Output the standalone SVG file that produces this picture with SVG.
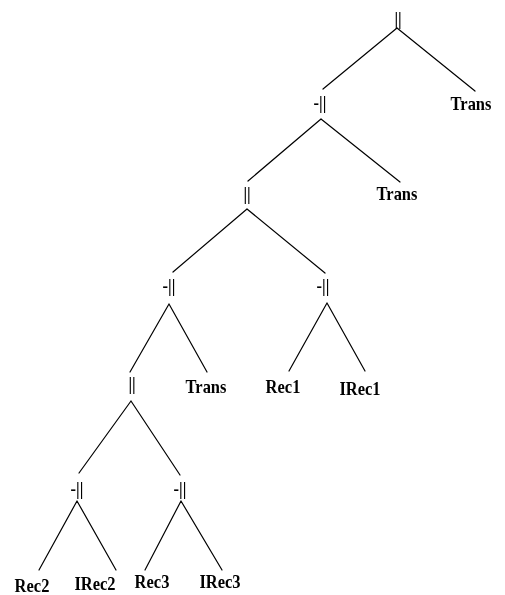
<svg xmlns="http://www.w3.org/2000/svg" width="505" height="595" viewBox="0 0 505 595">
  <style>
    .lbl { font-family: "Liberation Serif", "Times New Roman", serif; font-weight: bold; font-size: 16.5px; fill: #000; text-anchor: middle; }
    .edge { stroke: #000; stroke-width: 1.2; fill: none; stroke-linecap: round; }
    #labels { opacity: 0.999; }
  </style>
  <rect width="505" height="595" fill="#fff"/>

  <!-- tree edges -->
  <g id="edges" class="edge">
    <path d="M397,28 L323,89 M397,28 L475,91"/>
    <path d="M321,119 L248,181 M321,119 L400,182"/>
    <path d="M247,209 L173,272 M247,209 L325,273"/>
    <path d="M169,304 L130,372 M169,304 L207,372"/>
    <path d="M327,303 L289,371 M327,303 L365,371"/>
    <path d="M131,401 L79,473 M131,401 L180,475"/>
    <path d="M77,501 L39,570 M77,501 L116,570"/>
    <path d="M181,501 L145,570 M181,501 L222,570"/>
  </g>

  <!-- nodes: labels stretched slightly in height -->
  <g id="labels">
    <g id="n-root" transform="translate(398,25)"><text class="lbl" transform="scale(1,1.15)">||</text></g>
    <g id="n-par1" transform="translate(320,109)"><text class="lbl" transform="scale(1,1.15)">-||</text></g>
    <g id="n-trans1" transform="translate(471,110)"><text class="lbl" transform="scale(1,1.15)">Trans</text></g>
    <g id="n-par2" transform="translate(247,200)"><text class="lbl" transform="scale(1,1.15)">||</text></g>
    <g id="n-trans2" transform="translate(397,200)"><text class="lbl" transform="scale(1,1.15)">Trans</text></g>
    <g id="n-par3" transform="translate(169,292)"><text class="lbl" transform="scale(1,1.15)">-||</text></g>
    <g id="n-par4" transform="translate(323,292)"><text class="lbl" transform="scale(1,1.15)">-||</text></g>
    <g id="n-trans3" transform="translate(206,393)"><text class="lbl" transform="scale(1,1.15)">Trans</text></g>
    <g id="n-rec1" transform="translate(283,393)"><text class="lbl" transform="scale(1,1.15)">Rec1</text></g>
    <g id="n-irec1" transform="translate(360,395)"><text class="lbl" transform="scale(1,1.15)">IRec1</text></g>
    <g id="n-par5" transform="translate(132,390)"><text class="lbl" transform="scale(1,1.15)">||</text></g>
    <g id="n-par6" transform="translate(77,495)"><text class="lbl" transform="scale(1,1.15)">-||</text></g>
    <g id="n-par7" transform="translate(180,495)"><text class="lbl" transform="scale(1,1.15)">-||</text></g>
    <g id="n-rec2" transform="translate(32,592)"><text class="lbl" transform="scale(1,1.15)">Rec2</text></g>
    <g id="n-irec2" transform="translate(95,590)"><text class="lbl" transform="scale(1,1.15)">IRec2</text></g>
    <g id="n-rec3" transform="translate(152,588)"><text class="lbl" transform="scale(1,1.15)">Rec3</text></g>
    <g id="n-irec3" transform="translate(220,588)"><text class="lbl" transform="scale(1,1.15)">IRec3</text></g>
  </g>
</svg>
